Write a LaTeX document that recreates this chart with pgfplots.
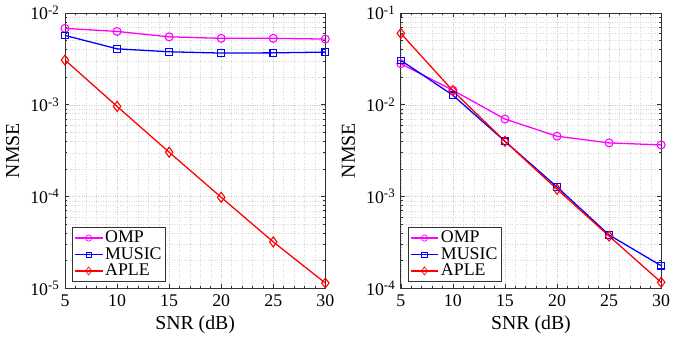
\documentclass[border=0pt]{standalone}
\usepackage{pgfplots}
\pgfplotsset{compat=1.18}
\usepackage{fontspec}
\setmainfont{Liberation Serif}
\definecolor{mymag}{RGB}{255,0,255}
\definecolor{myblue}{RGB}{0,0,255}
\definecolor{myred}{RGB}{255,0,0}
\newcommand{\tp}[1]{10\raisebox{5.5bp}{\fontsize{13}{15}\selectfont #1}}
\begin{document}
\fontsize{18}{21}\selectfont
\begin{tikzpicture}
\pgfplotsset{
  every axis/.style={
    scale only axis, width=262bp, height=277bp,
    ymode=log, xmin=5, xmax=30, xtick={5,10,...,30},
    minor x tick num=4,
    grid=both,
    major grid style={dotted, gray!45, line width=0.5pt},
    minor grid style={dotted, gray!30, line width=0.4pt},
    axis line style={line width=0.8pt, black!80},
    tick style={black!80, line width=0.6pt},
    major tick length=4bp, minor tick length=2bp,
    tick label style={font=\fontsize{18}{21}\selectfont},
    xticklabel style={/pgf/number format/assume math mode=true},
    label style={font=\fontsize{20}{23}\selectfont},
    xlabel={SNR (dB)}, ylabel={NMSE},
    xlabel style={yshift=3bp},
    ylabel style={yshift=-1bp},
    legend style={at={(0.028,0.023)}, anchor=south west, draw=black!80, line width=0.6pt,
      font=\fontsize{18}{21}\selectfont, inner sep=1.5pt, row sep=-2pt,
      legend cell align=left},
    legend image code/.code={
      \draw[mark repeat=2,mark phase=2,mark options={scale=0.8,line width=0.7pt}] plot coordinates {(0bp,0bp) (14bp,0bp) (28bp,0bp)};},
  },
  omp/.style={color=mymag, line width=1.3pt, mark=o, mark size=4bp, mark options={line width=1.1pt}},
  music/.style={color=myblue, line width=1.3pt, mark=square, mark size=3.3bp, mark options={line width=1.1pt}},
  aple/.style={color=myred, line width=1.3pt, mark=diamond, mark size=5bp, mark options={line width=1.1pt}},
}
\begin{axis}[name=left, ymin=1e-5, ymax=1e-2,
  ytick={1e-5,1e-4,1e-3,1e-2},
  yticklabels={\tp{-5},\tp{-4},\tp{-3},\tp{-2}}]
\addplot[omp] coordinates {(5,6.8e-3) (10,6.3e-3) (15,5.5e-3) (20,5.3e-3) (25,5.3e-3) (30,5.2e-3)};
\addplot[music] coordinates {(5,5.7e-3) (10,4.07e-3) (15,3.78e-3) (20,3.66e-3) (25,3.68e-3) (30,3.75e-3)};
\addplot[aple] coordinates {(5,3.07e-3) (10,9.6e-4) (15,3.04e-4) (20,9.8e-5) (25,3.2e-5) (30,1.14e-5)};
\legend{OMP,MUSIC,APLE}
\end{axis}
\begin{axis}[at={(left.south east)}, anchor=south west, xshift=76bp,
  ymin=1e-4, ymax=1e-1,
  ytick={1e-4,1e-3,1e-2,1e-1},
  yticklabels={\tp{-4},\tp{-3},\tp{-2},\tp{-1}}]
\addplot[omp] coordinates {(5,2.8e-2) (10,1.44e-2) (15,6.98e-3) (20,4.54e-3) (25,3.84e-3) (30,3.65e-3)};
\addplot[music] coordinates {(5,3.05e-2) (10,1.27e-2) (15,4.0e-3) (20,1.27e-3) (25,3.81e-4) (30,1.76e-4)};
\addplot[aple] coordinates {(5,6.0e-2) (10,1.42e-2) (15,4.0e-3) (20,1.2e-3) (25,3.7e-4) (30,1.16e-4)};
\legend{OMP,MUSIC,APLE}
\end{axis}
\end{tikzpicture}
\end{document}
